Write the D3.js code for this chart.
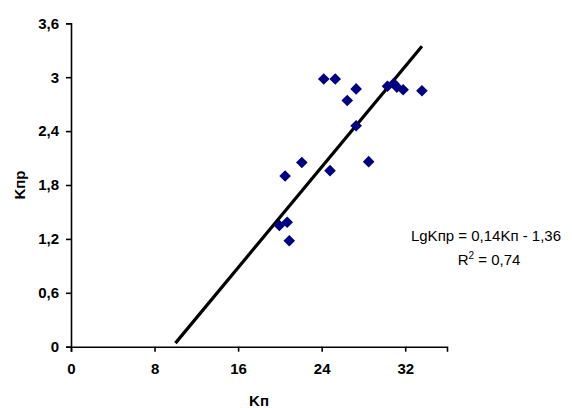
<!DOCTYPE html>
<html>
<head>
<meta charset="utf-8">
<script src="https://cdn.jsdelivr.net/npm/d3@7"></script>
<style>
  body { margin: 0; background: #fff; }
  svg text { font-family: Arial, "Liberation Sans", sans-serif; }
</style>
</head>
<body>
<div class="chart"></div>
<script>
// data
var kp   = [24.2, 25.3, 27.3, 26.45, 30.3, 30.9, 31.2, 31.8, 33.6, 27.3, 22.1, 20.5, 24.8, 28.5, 20.7, 19.95, 20.9];
var kpr  = [2.98, 2.98, 2.87, 2.74, 2.90, 2.93, 2.89, 2.86, 2.85, 2.46, 2.05, 1.90, 1.96, 2.06, 1.385, 1.35, 1.18];
var xTicks = [0, 8, 16, 24, 32];
var yTicks = [0, 0.6, 1.2, 1.8, 2.4, 3, 3.6];
var trendSlope = 0.14, trendIntercept = -1.36;
var trendRange = [10, 33.6];
var eqLines = ['LgKпр = 0,14Kп - 1,36', 'R', '2', ' = 0,74'];

var W = 572, H = 408;
var margin = { top: 23.3, right: 125, bottom: 61.3, left: 71 };
var width = W - margin.left - margin.right;
var height = H - margin.top - margin.bottom;
var fmt = function(d) { return String(d).replace('.', ','); };

var svg = d3.select('.chart')
  .append('svg')
    .attr('width', W)
    .attr('height', H)
  .append('g')
    .attr('transform', 'translate(' + margin.left + ', ' + margin.top + ')');

var xScale = d3.scaleLinear().domain([0, 36]).range([0, width]);
var yScale = d3.scaleLinear().domain([0, 3.6]).range([height, 0]);

var xAxis = d3.axisBottom(xScale)
    .tickValues(xTicks)
    .tickSize(5)
    .tickPadding(12)
    .tickFormat(fmt);
var yAxis = d3.axisLeft(yScale)
    .tickValues(yTicks)
    .tickSize(5)
    .tickPadding(7)
    .tickFormat(fmt);

var gx = svg.append('g')
    .attr('transform', `translate(0, ${height})`)
    .call(xAxis);
var gy = svg.append('g').call(yAxis);

[gx, gy].forEach(function(g) {
  g.select('.domain').attr('stroke', '#000').attr('stroke-width', 1.6);
  g.selectAll('.tick line').attr('stroke', '#000').attr('stroke-width', 1.6);
  g.selectAll('.tick text')
    .attr('fill', '#000')
    .style('font-size', '15px')
    .style('font-weight', 'bold');
});

// trendline
svg.append('line')
  .attr('x1', xScale(trendRange[0]))
  .attr('y1', yScale(trendSlope * trendRange[0] + trendIntercept))
  .attr('x2', xScale(trendRange[1]))
  .attr('y2', yScale(trendSlope * trendRange[1] + trendIntercept))
  .attr('stroke', '#000')
  .attr('stroke-width', 3.2);

// markers
var pts = kp.map(function(v, i) { return { x: v, y: kpr[i] }; });
svg.selectAll('.pt')
  .data(pts)
  .enter()
  .append('path')
    .attr('class', 'pt')
    .attr('d', 'M0,-5.8L5.8,0L0,5.8L-5.8,0Z')
    .attr('transform', d => `translate(${xScale(d.x)}, ${yScale(d.y)})`)
    .attr('fill', '#000080');

// equation label
var eq = svg.append('text')
  .attr('x', 415)
  .attr('y', 218)
  .attr('text-anchor', 'middle')
  .attr('fill', '#000')
  .style('font-size', '15px')
  .text(eqLines[0]);
var r2 = svg.append('text')
  .attr('x', 418)
  .attr('y', 242)
  .attr('text-anchor', 'middle')
  .attr('fill', '#000')
  .style('font-size', '15px');
r2.append('tspan').text(eqLines[1]);
r2.append('tspan').attr('dy', -6).style('font-size', '10px').text(eqLines[2]);
r2.append('tspan').attr('dy', 6).text(eqLines[3]);

// axis titles
svg.append('text')
  .attr('x', width / 2)
  .attr('y', height + 59)
  .attr('text-anchor', 'middle')
  .attr('fill', '#000')
  .style('font-size', '15px')
  .style('font-weight', 'bold')
  .text('Kп');

svg.append('text')
  .attr('transform', 'rotate(-90)')
  .attr('x', -height / 2)
  .attr('y', -46)
  .attr('text-anchor', 'middle')
  .attr('fill', '#000')
  .style('font-size', '15px')
  .style('font-weight', 'bold')
  .text('Kпр');
</script>
</body>
</html>
